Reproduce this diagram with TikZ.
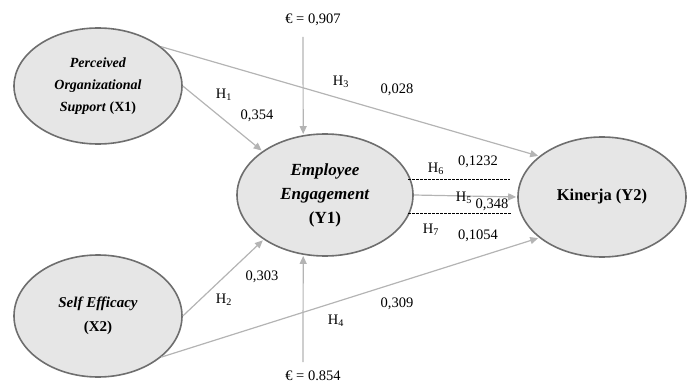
\documentclass[tikz,border=0pt]{standalone}
\usepackage{fontspec}
\setmainfont{Liberation Serif}
\usetikzlibrary{shapes.geometric,arrows.meta}
\definecolor{ellfill}{HTML}{E6E6E6}
\definecolor{elldraw}{HTML}{6E6E6E}
\definecolor{arrgray}{HTML}{B4B4B4}
\tikzset{
  latent/.style={ellipse, draw=elldraw, fill=ellfill, line width=1.6pt, inner sep=0pt, align=center},
  path/.style={draw=arrgray, line width=1.2pt, -{Triangle[length=8pt,width=7pt]}, shorten >=1pt},
  lbl/.style={inner sep=0pt, font=\fontsize{14.5}{16}\selectfont},
  dashline/.style={draw=black, line width=0.8pt, dash pattern=on 2.5pt off 1.5pt}
}
\begin{document}
\begin{tikzpicture}[x=1pt,y=-1pt]
\useasboundingbox (0,0) rectangle (691,385);
\node[latent, minimum width=168pt, minimum height=116pt, font=\fontsize{14}{22}\selectfont\bfseries] (x1) at (98,86) {\textit{Perceived}\\\textit{Organizational}\\\textit{Support} (X1)};
\node[latent, minimum width=168pt, minimum height=122pt, font=\fontsize{15}{24}\selectfont\bfseries] (x2) at (98,316) {\textit{Self Efficacy}\\(X2)};
\node[latent, minimum width=176pt, minimum height=122pt, font=\fontsize{17}{24}\selectfont\bfseries] (y1) at (325,195) {\textit{Employee}\\\textit{Engagement}\\(Y1)};
\node[latent, minimum width=168pt, minimum height=120pt, font=\fontsize{16.5}{20}\selectfont\bfseries] (y2) at (602,197) {Kinerja (Y2)};

\node[lbl] (e1) at (313,20) {€ = 0,907};
\node[lbl] (e2) at (313,376) {€ = 0.854};
\coordinate (e1s) at (303,37);
\coordinate (e2s) at (303,362);

\draw[path] (e1s) -- (y1.110);
\draw[path] (e2s) -- (y1.250);
\draw[path] (x1.east) -- (y1.145);
\draw[path] (x2.east) -- (y1.216);
\draw[path] (x1.32) -- (y2.147);
\draw[path] (x2.-33.5) -- (y2.213);
\draw[path] (y1.east) -- (y2.west);

\coordinate (d1a) at (408,179);
\coordinate (d1b) at (510,179);
\coordinate (d2a) at (408,213);
\coordinate (d2b) at (512,213);
\draw[dashline] (d1a) -- (d1b);
\draw[dashline] (d2a) -- (d2b);

\node[lbl] (h1) at (224,95) {H\textsubscript{1}};
\node[lbl] (v1) at (257,116) {0,354};
\node[lbl] (h3) at (341,82) {H\textsubscript{3}};
\node[lbl] (v3) at (397,90) {0,028};
\node[lbl] (h2) at (224,300) {H\textsubscript{2}};
\node[lbl] (v2) at (262,277) {0,303};
\node[lbl] (h4) at (336,321) {H\textsubscript{4}};
\node[lbl] (v4) at (397,304) {0,309};
\node[lbl] (h6) at (436,169) {H\textsubscript{6}};
\node[lbl] (v6) at (478,162) {0,1232};
\node[lbl] (h5) at (464,198) {H\textsubscript{5}};
\node[lbl] (v5) at (492,205) {0,348};
\node[lbl] (h7) at (431,230) {H\textsubscript{7}};
\node[lbl] (v7) at (478,236) {0,1054};
\end{tikzpicture}
\end{document}
